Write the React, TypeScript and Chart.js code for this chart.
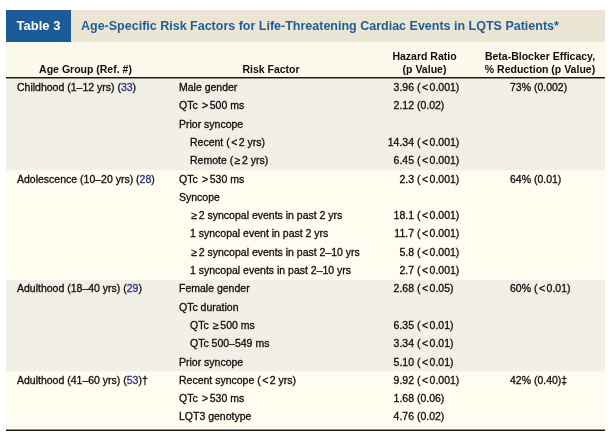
import React, { useEffect, useRef } from "react";
import { Chart, registerables } from "chart.js";

Chart.register(...registerables);

// ---------- DATA ----------
const tableLabel = "Table 3";
const tableTitle =
  "Age-Specific Risk Factors for Life-Threatening Cardiac Events in LQTS Patients*";
const columnHeaders: string[][] = [
  ["Age Group (Ref. #)"],
  ["Risk Factor"],
  ["Hazard Ratio", "(p Value)"],
  ["Beta-Blocker Efficacy,", "% Reduction (p Value)"],
];
const ageGroups = [
  "Childhood (1–12 yrs)",
  "Adolescence (10–20 yrs)",
  "Adulthood (18–40 yrs)",
  "Adulthood (41–60 yrs)",
];
const groupRefs = ["33", "28", "29", "53"];
const groupMarks = ["", "", "", "†"];
const groupSizes = [5, 6, 5, 3];
const betaBlocker = ["73% (0.002)", "64% (0.01)", "60% (<0.01)", "42% (0.40)‡"];

const riskFactors = [
  "Male gender",
  "QTc >500 ms",
  "Prior syncope",
  "Recent (<2 yrs)",
  "Remote (≥2 yrs)",
  "QTc >530 ms",
  "Syncope",
  "≥2 syncopal events in past 2 yrs",
  "1 syncopal event in past 2 yrs",
  "≥2 syncopal events in past 2–10 yrs",
  "1 syncopal events in past 2–10 yrs",
  "Female gender",
  "QTc duration",
  "QTc ≥500 ms",
  "QTc 500–549 ms",
  "Prior syncope",
  "Recent syncope (<2 yrs)",
  "QTc >530 ms",
  "LQT3 genotype",
];
const subItem = [
  false, false, false, true, true,
  false, false, true, true, true, true,
  false, false, true, true, false,
  false, false, false,
];
const hazardRatios = [
  "3.96", "2.12", "", "14.34", "6.45",
  "2.3", "", "18.1", "11.7", "5.8", "2.7",
  "2.68", "", "6.35", "3.34", "5.10",
  "9.92", "1.68", "4.76",
];
const hazardP = [
  "<0.001", "0.02", "", "<0.001", "<0.001",
  "<0.001", "", "<0.001", "<0.001", "<0.001", "<0.001",
  "<0.05", "", "<0.01", "<0.01", "<0.01",
  "<0.001", "0.06", "0.02",
];

// ---------- STYLE ----------
const FONT = "'Liberation Sans', Arial, sans-serif";
const BODY_FONT = `10.5px ${FONT}`;
const BOLD_FONT = `bold 10.5px ${FONT}`;
const TEXT = "#0d0d0d";
const REF_BLUE = "#2b2f8f";
const TITLE_BLUE = "#1f5c99";
const LABEL_BG = "#1a5b98";
const TITLE_BG = "#ebe5d3";
const HEADER_BG = "#fcfaec";
const GROUP_BG = ["#f2efe6", "#fffdef", "#f2efe6", "#fffdef"];
const SYMBOL_PAD = 1.5;

// column anchors in x-scale units (pixels from table's left edge)
const COL = {
  age: 11,
  risk: 173,
  indent: 11,
  hazard: 408,
  beta: 504,
  ageHead: 79.5,
  riskHead: 265,
  hazardHead: 418.5,
  betaHead: 534,
};

const groupOfRow: number[] = [];
groupSizes.forEach((n, g) => {
  for (let i = 0; i < n; i++) groupOfRow.push(g);
});
const groupStart: number[] = [];
{
  let s = 0;
  groupSizes.forEach((n) => {
    groupStart.push(s);
    s += n;
  });
}

// draws text left-aligned, giving math symbols (<, >, ≥) a little side-bearing
function drawText(ctx: CanvasRenderingContext2D, s: string, x: number, y: number, heavy = true): number {
  const parts = s.split(/([<>≥])/);
  let cx = x;
  ctx.textAlign = "left";
  for (const p of parts) {
    if (!p) continue;
    const sym = p === "<" || p === ">" || p === "≥";
    if (sym) cx += SYMBOL_PAD;
    ctx.fillText(p, cx, y);
    if (heavy) {
      ctx.strokeStyle = ctx.fillStyle as string;
      ctx.lineWidth = 0.3;
      ctx.strokeText(p, cx, y);
    }
    cx += ctx.measureText(p).width;
    if (sym) cx += SYMBOL_PAD;
  }
  return cx - x;
}
function measureText(ctx: CanvasRenderingContext2D, s: string): number {
  const parts = s.split(/([<>≥])/);
  let w = 0;
  for (const p of parts) {
    if (!p) continue;
    const sym = p === "<" || p === ">" || p === "≥";
    w += ctx.measureText(p).width + (sym ? 2 * SYMBOL_PAD : 0);
  }
  return w;
}

const tablePlugin = {
  id: "tableText",
  beforeDraw(chart: any) {
    const ctx = chart.ctx as CanvasRenderingContext2D;
    const { left, right, top, bottom } = chart.chartArea;
    ctx.save();
    ctx.fillStyle = "#ffffff";
    ctx.fillRect(0, 0, chart.width, chart.height);
    ctx.fillStyle = TITLE_BG;
    ctx.fillRect(left, 10, right - left, 32);
    ctx.fillStyle = LABEL_BG;
    ctx.fillRect(left, 10, 65, 32);
    ctx.fillStyle = HEADER_BG;
    ctx.fillRect(left, 42, right - left, top - 42);
    ctx.fillStyle = GROUP_BG[GROUP_BG.length - 1];
    ctx.fillRect(left, bottom - 1, right - left, 4);
    ctx.restore();
  },
  afterDatasetsDraw(chart: any) {
    const ctx = chart.ctx as CanvasRenderingContext2D;
    const { left, right, top, bottom } = chart.chartArea;
    const xs = chart.scales.x;
    const ys = chart.scales.y;
    const X = (v: number) => xs.getPixelForValue(v);
    ctx.save();
    ctx.textBaseline = "middle";

    // title
    ctx.font = `bold 13px ${FONT}`;
    ctx.fillStyle = "#ffffff";
    ctx.textAlign = "center";
    ctx.fillText(tableLabel, left + 32.5, 26.5);
    ctx.font = `bold 12.5px ${FONT}`;
    ctx.fillStyle = TITLE_BLUE;
    ctx.textAlign = "left";
    ctx.fillText(tableTitle, 81, 26.5);

    // column headers
    ctx.font = BOLD_FONT;
    ctx.fillStyle = TEXT;
    ctx.textAlign = "center";
    const heads = [COL.ageHead, COL.riskHead, COL.hazardHead, COL.betaHead];
    columnHeaders.forEach((lines, c) => {
      const n = lines.length;
      lines.forEach((ln, k) => {
        const y = 70 - (n - 1 - k) * 13;
        ctx.fillText(ln, X(heads[c]), y);
      });
    });

    // header rule & bottom rule
    ctx.strokeStyle = "#1a1a1a";
    ctx.lineWidth = 1.5;
    ctx.beginPath();
    ctx.moveTo(left, top - 1.25);
    ctx.lineTo(right, top - 1.25);
    ctx.moveTo(left, bottom + 3.5);
    ctx.lineTo(right, bottom + 3.5);
    ctx.stroke();

    ctx.font = BODY_FONT;
    // age groups with refs
    ageGroups.forEach((g, gi) => {
      const y = ys.getPixelForValue(groupStart[gi]);
      let x = X(COL.age);
      ctx.fillStyle = TEXT;
      x += drawText(ctx, g + " (", x, y);
      ctx.fillStyle = REF_BLUE;
      x += drawText(ctx, groupRefs[gi], x, y);
      ctx.fillStyle = TEXT;
      drawText(ctx, ")" + groupMarks[gi], x, y);
      drawText(ctx, betaBlocker[gi], X(COL.beta), y);
    });

    // rows
    riskFactors.forEach((rf, i) => {
      const y = ys.getPixelForValue(i);
      ctx.fillStyle = TEXT;
      drawText(ctx, rf, X(COL.risk + (subItem[i] ? COL.indent : 0)), y);
      if (hazardRatios[i]) {
        const w = measureText(ctx, hazardRatios[i]);
        drawText(ctx, hazardRatios[i], X(COL.hazard) - w, y);
        drawText(ctx, " (" + hazardP[i] + ")", X(COL.hazard), y);
      }
    });
    ctx.restore();
  },
};

export default function App() {
  const ref = useRef<HTMLCanvasElement | null>(null);
  useEffect(() => {
    if (!ref.current) return;
    const chart = new Chart(ref.current, {
      type: "bar",
      data: {
        labels: riskFactors.map((_, i) => String(i)),
        datasets: [
          {
            data: riskFactors.map(() => [0, 599]) as any,
            backgroundColor: groupOfRow.map((g) => GROUP_BG[g]),
            borderWidth: 0,
            barPercentage: 1,
            categoryPercentage: 1,
          },
        ],
      },
      options: {
        indexAxis: "y",
        animation: false,
        responsive: false,
        maintainAspectRatio: false,
        events: [],
        layout: { padding: { left: 6, right: 8, top: 79, bottom: 9.3 } },
        plugins: {
          legend: { display: false },
          title: { display: false },
          tooltip: { enabled: false },
        },
        scales: {
          x: { type: "linear", min: 0, max: 599, display: false },
          y: { type: "category", display: false, offset: true },
        },
      },
      plugins: [tablePlugin],
    });
    return () => chart.destroy();
  }, []);
  return (
    <div style={{ position: "absolute", left: 0, top: 0, width: 613, height: 436, background: "#fff" }}>
      <canvas ref={ref} width={613} height={436} />
    </div>
  );
}
